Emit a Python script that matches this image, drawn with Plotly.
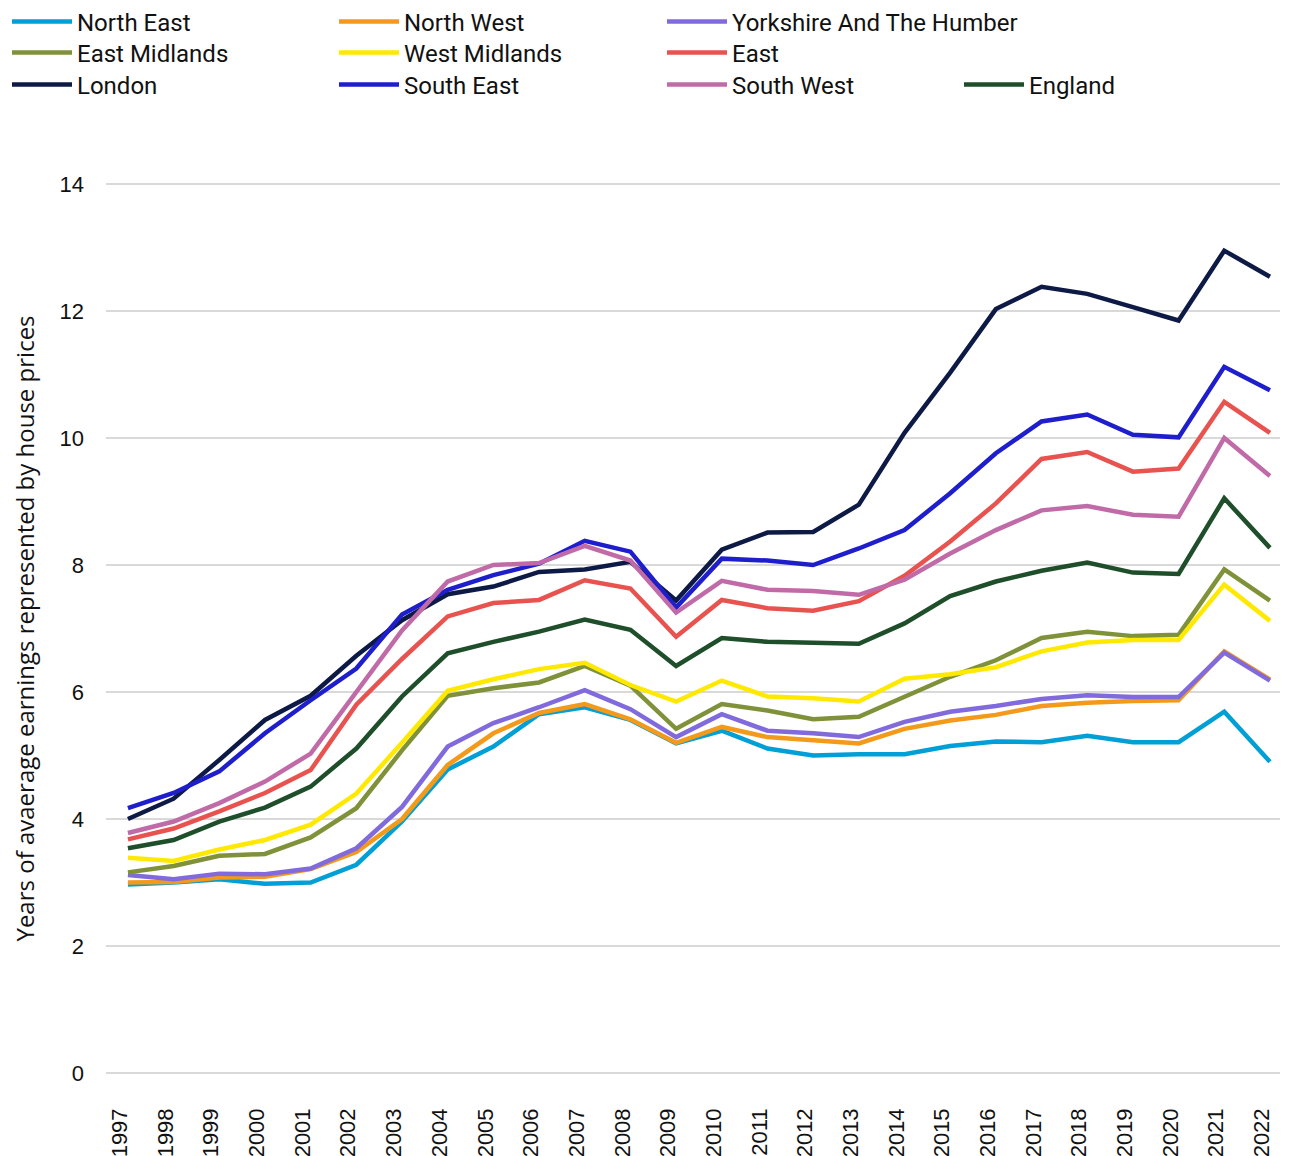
import plotly.graph_objects as go

years = list(range(1997, 2023))
year_labels = [str(y) for y in years]

north_east = [2.97, 3.00, 3.05, 2.98, 3.00, 3.28, 3.96, 4.78, 5.14, 5.65, 5.76, 5.56, 5.19, 5.39, 5.11, 5.00, 5.02, 5.02, 5.15, 5.22, 5.21, 5.31, 5.21, 5.21, 5.69, 4.90]
north_west = [3.00, 3.01, 3.08, 3.09, 3.21, 3.48, 4.00, 4.85, 5.35, 5.67, 5.81, 5.57, 5.20, 5.45, 5.29, 5.24, 5.19, 5.42, 5.55, 5.64, 5.78, 5.83, 5.86, 5.87, 6.64, 6.20]
yorkshire = [3.12, 3.05, 3.14, 3.13, 3.22, 3.54, 4.19, 5.14, 5.51, 5.76, 6.03, 5.73, 5.29, 5.65, 5.39, 5.35, 5.29, 5.53, 5.69, 5.78, 5.89, 5.95, 5.92, 5.92, 6.62, 6.18]
east_midlands = [3.16, 3.26, 3.42, 3.45, 3.71, 4.17, 5.08, 5.94, 6.06, 6.15, 6.41, 6.10, 5.42, 5.81, 5.71, 5.57, 5.61, 5.92, 6.24, 6.50, 6.85, 6.95, 6.88, 6.90, 7.93, 7.44]
west_midlands = [3.39, 3.34, 3.52, 3.67, 3.91, 4.40, 5.20, 6.02, 6.20, 6.36, 6.46, 6.11, 5.85, 6.18, 5.93, 5.90, 5.85, 6.21, 6.28, 6.39, 6.64, 6.78, 6.82, 6.82, 7.69, 7.12]
east = [3.68, 3.85, 4.12, 4.41, 4.77, 5.80, 6.52, 7.19, 7.40, 7.45, 7.76, 7.63, 6.87, 7.45, 7.32, 7.28, 7.43, 7.83, 8.37, 8.97, 9.67, 9.78, 9.47, 9.52, 10.57, 10.08]
london = [4.00, 4.32, 4.93, 5.56, 5.94, 6.57, 7.13, 7.54, 7.66, 7.89, 7.93, 8.05, 7.44, 8.24, 8.51, 8.52, 8.95, 10.08, 11.03, 12.03, 12.38, 12.27, 12.06, 11.85, 12.95, 12.54]
south_east = [4.17, 4.41, 4.75, 5.35, 5.87, 6.37, 7.22, 7.61, 7.84, 8.02, 8.38, 8.21, 7.33, 8.10, 8.07, 8.00, 8.26, 8.55, 9.13, 9.76, 10.26, 10.37, 10.05, 10.01, 11.12, 10.75]
south_west = [3.78, 3.96, 4.25, 4.59, 5.03, 6.00, 6.97, 7.74, 8.00, 8.03, 8.30, 8.07, 7.25, 7.75, 7.61, 7.59, 7.53, 7.77, 8.18, 8.55, 8.86, 8.93, 8.79, 8.76, 10.00, 9.40]
england = [3.54, 3.67, 3.96, 4.18, 4.51, 5.11, 5.93, 6.61, 6.79, 6.95, 7.14, 6.98, 6.41, 6.85, 6.79, 6.77, 6.76, 7.08, 7.51, 7.74, 7.91, 8.04, 7.88, 7.86, 9.05, 8.27]

y_ticks = [0, 2, 4, 6, 8, 10, 12, 14]

series = [
    ("North East", north_east, "#009FD6"),
    ("North West", north_west, "#F39A1B"),
    ("Yorkshire And The Humber", yorkshire, "#806ADC"),
    ("East Midlands", east_midlands, "#7F923A"),
    ("West Midlands", west_midlands, "#FFE900"),
    ("East", east, "#E8534F"),
    ("London", london, "#0D1A45"),
    ("South East", south_east, "#1E1ECC"),
    ("South West", south_west, "#C06BA8"),
    ("England", england, "#1F4E2A"),
]

# legend grid placement (column, row), in figure pixels
legend_pos = [(0, 0), (1, 0), (2, 0), (0, 1), (1, 1), (2, 1), (0, 2), (1, 2), (2, 2), (3, 2)]
col_px = [-1, 326, 654, 951]
row_px = [14, 45, 77]

W, H = 1293, 1156
L, R, T, B = 98, 21, 174, 89
pw = W - L - R
ph = H - T - B

x_range = [1996.52, 2022.22]
y_range = [-0.031, 14.031]  # tiny pad so the 0 and 14 gridlines are drawn
label_shift = 8 * (x_range[1] - x_range[0]) / pw  # tick labels sit slightly left of the points

fig = go.Figure()
layout_legends = {}
for i, (name, vals, color) in enumerate(series):
    lname = "legend" if i == 0 else f"legend{i+1}"
    fig.add_trace(go.Scatter(
        x=years, y=vals, mode="lines", name=name,
        line=dict(color=color, width=4.5),
        legend=lname,
    ))
    c, r = legend_pos[i]
    layout_legends[lname] = dict(
        x=(col_px[c] - L) / pw,
        y=(H - B - row_px[r]) / ph,
        xanchor="left", yanchor="middle",
        orientation="h",
        font=dict(family="Roboto", size=24, color="#111111"),
        itemwidth=60,
        bgcolor="rgba(0,0,0,0)",
        borderwidth=0,
    )

# empty helper trace so the label axis (x2) is drawn
fig.add_trace(go.Scatter(
    x=years, y=[None] * len(years), xaxis="x2", yaxis="y",
    mode="lines", showlegend=False, hoverinfo="skip",
))

fig.update_layout(
    width=W, height=H,
    margin=dict(l=L, r=R, t=T, b=B, autoexpand=False),
    plot_bgcolor="white", paper_bgcolor="white",
    showlegend=True,
    xaxis=dict(
        range=x_range,
        tickmode="array", tickvals=years, ticktext=year_labels,
        showticklabels=False,
        showgrid=False, zeroline=False, showline=False, ticks="",
        automargin=False,
    ),
    xaxis2=dict(
        overlaying="x", anchor="y", side="bottom",
        range=[x_range[0] + label_shift, x_range[1] + label_shift],
        tickmode="array", tickvals=years, ticktext=year_labels,
        tickangle=-90,
        tickfont=dict(family="Liberation Sans", size=22, color="#111111"),
        showgrid=False, zeroline=False, showline=False,
        ticks="", ticklabelstandoff=28, automargin=False,
    ),
    yaxis=dict(
        range=y_range,
        tickmode="array", tickvals=y_ticks, ticktext=[str(v) for v in y_ticks],
        tickfont=dict(family="Liberation Sans", size=22, color="#111111"),
        showgrid=True, gridcolor="#D9D9D9", gridwidth=1.5,
        zeroline=False, showline=False,
        ticks="", ticklabelstandoff=21, automargin=False,
        title=dict(text="Years of avaerage earnings represented by house prices",
                   font=dict(family="Open Sans", size=24, color="#111111"),
                   standoff=25),
    ),
    **layout_legends,
)

fig.write_html("out.html")
